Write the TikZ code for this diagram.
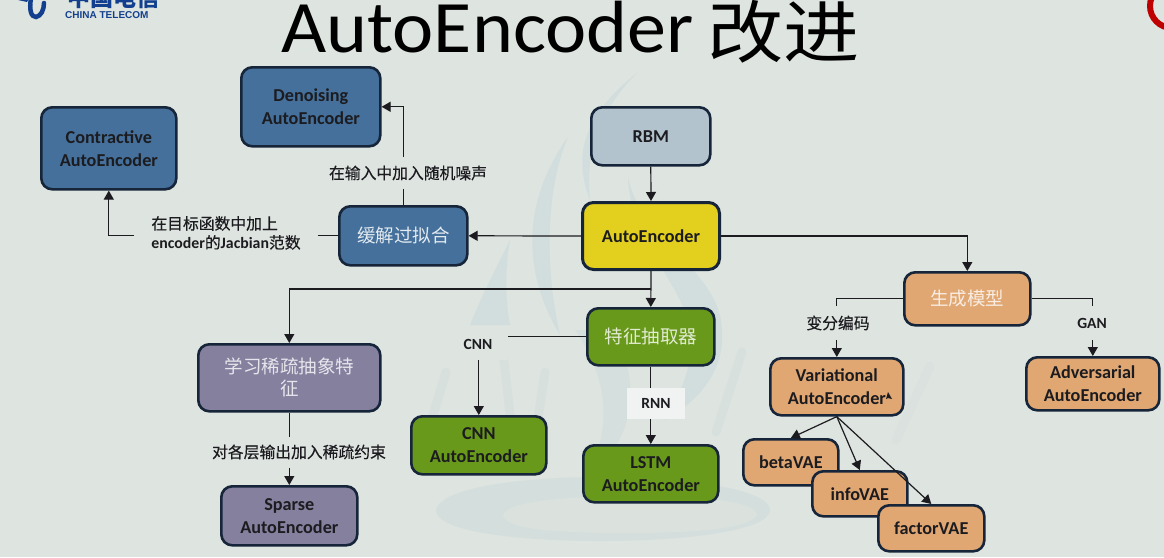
\documentclass[tikz,border=0pt]{standalone}
\usepackage{fontspec}
\usepackage{graphicx}
\setmainfont{Carlito}
\newfontfamily\cjk{Noto Sans CJK SC}
\newfontfamily\cjkm[FakeBold=0.35]{Noto Sans CJK SC}
\newfontfamily\lgf{Liberation Sans}
\usetikzlibrary{arrows.meta,calc}
\definecolor{bgc}{HTML}{DEE4DF}
\definecolor{wmk}{HTML}{D2DDDD}
\definecolor{bluef}{HTML}{44709B}
\definecolor{greyb}{HTML}{B2C3CD}
\definecolor{yel}{HTML}{E2CF1E}
\definecolor{gre}{HTML}{68991A}
\definecolor{ora}{HTML}{E0A772}
\definecolor{pur}{HTML}{86809F}
\definecolor{edge}{HTML}{16253A}
\definecolor{ink}{HTML}{1C1C20}
\definecolor{tel}{HTML}{12408F}
\tikzset{x=1pt,y=-1pt,
 box/.style={draw=edge,line width=2.6pt,rounded corners=11pt,inner sep=0pt,align=center,font=\bfseries\fontsize{18.2}{23}\selectfont,text=ink},
 cjkbox/.style={box,font=\cjk\fontsize{18.5}{22}\selectfont,text=#1},
 conn/.style={draw=ink,line width=1.2pt},
 arr/.style={conn,-{Triangle[length=9pt,width=10pt]}},
 lab/.style={inner sep=0pt,fill=bgc,align=center,text=ink,font=\cjkm\fontsize{15.8}{19}\selectfont},
 labl/.style={inner sep=0pt,fill=bgc,align=center,text=ink,font=\bfseries\fontsize{15.5}{19}\selectfont},
 wm/.style={draw=wmk,line width=9pt,line cap=round,opacity=.45}}
\newcommand{\bx}[5]{\node[#1,minimum width=#4pt-1pt,minimum height=#5pt-1pt,anchor=north west] (#2) at (#3)}
\begin{document}
\begin{tikzpicture}
\useasboundingbox (0,0) rectangle (1164,557);
\fill[bgc] (0,0) rectangle (1164,557);
% watermark
\fill[wmk,opacity=.85] (436,510) .. controls (440,488) and (520,477) .. (600,477) .. controls (690,477) and (770,490) .. (770,510) .. controls (770,530) and (690,541) .. (600,541) .. controls (520,541) and (436,532) .. (436,510);
\fill[bgc,opacity=.75] (503,515) .. controls (510,498) and (590,496) .. (650,496) .. controls (710,496) and (757,503) .. (757,515) .. controls (750,528) and (700,533) .. (630,533) .. controls (560,533) and (505,530) .. (503,515);
\fill[wmk] (637,73) .. controls (590,110) and (570,150) .. (590,200) .. controls (585,150) and (600,110) .. (637,73);
\fill[wmk] (568,137) .. controls (530,190) and (515,260) .. (560,335) .. controls (545,270) and (545,190) .. (568,137);
\fill[wmk] (510,240) .. controls (495,270) and (480,300) .. (470,325) -- (510,325) .. controls (505,300) and (505,270) .. (510,240);
\fill[wmk] (628,177) .. controls (640,240) and (720,270) .. (722,330) .. controls (725,370) and (700,400) .. (665,420) .. controls (690,380) and (700,340) .. (680,300) .. controls (660,260) and (630,230) .. (628,177);
\fill[wmk,opacity=.7] (575,330) .. controls (610,380) and (610,430) .. (590,470) .. controls (640,440) and (640,370) .. (610,330) -- cycle;
\draw[wm] (446,372) -- (428,432);
\draw[wm] (503,352) -- (512,432);
\draw[wm] (545,372) -- (533,452);
\draw[wm] (742,352) -- (716,432);
\draw[wm,opacity=.3] (930,366) -- (896,440);
% title
\node[anchor=base west,inner sep=0pt,text=black,font=\fontsize{74}{80}\selectfont] (title) at (281,52) {\scalebox{1.055}[1]{AutoEncoder}\hspace{14pt}\raisebox{-5pt}{\scalebox{1.12}[1]{\cjk\fontsize{68}{72}\selectfont 改进}}};
% logo
\node[anchor=base west,inner sep=0pt,text=tel,font=\lgf\bfseries\fontsize{10}{12}\selectfont] (logoen) at (65,18) {CHINA TELECOM};
\node[anchor=base west,inner sep=0pt,text=tel,font=\cjk\bfseries\fontsize{23}{24}\selectfont] (logocn) at (67,6) {中国电信};
\draw[tel,line width=4.5pt,line cap=round] (31,-2) .. controls (29,10) and (31,17) .. (36,17) .. controls (41,16) and (44,10) .. (44,3);
\fill[tel] (18,0) -- (28,0) -- (27,2) -- cycle;
% seal
\draw[red!75!black,line width=6pt] (1172,6) circle (22);
% nodes
\bx{box,fill=greyb}{rbm}{590,106}{120}{59} {RBM};
\bx{box,line width=3pt,fill=yel}{ae}{581,201}{138}{68} {AutoEncoder};
\bx{cjkbox=white!85!bluef,fill=bluef}{ov}{338,205}{129}{60} {缓解过拟合};
\bx{box,fill=bluef}{dae}{240,66}{140}{80} {Denoising\\AutoEncoder};
\bx{box,fill=bluef}{cae}{40,106}{136}{83} {Contractive\\AutoEncoder};
\bx{cjkbox=white!80!gre,fill=gre}{fe}{586,307}{128}{58} {特征抽取器};
\bx{box,fill=gre}{cnn}{410,415}{136}{59} {CNN\\AutoEncoder};
\bx{box,fill=gre}{lstm}{582,444}{136}{58} {LSTM\\AutoEncoder};
\bx{cjkbox=white!80!pur,fill=pur}{sp}{197,343}{183}{68} {学习稀疏抽象特\\征};
\bx{box,fill=pur}{sae}{220,485}{137}{60} {Sparse\\AutoEncoder};
\bx{cjkbox=white!80!ora,fill=ora}{gen}{903,271}{127}{54} {生成模型};
\bx{box,fill=ora}{vae}{769,357}{134}{58} {Variational\\AutoEncoder};
\bx{box,fill=ora}{aae}{1025,356}{134}{54} {Adversarial\\AutoEncoder};
\bx{box,fill=ora}{beta}{742,438}{96}{47} {betaVAE};
\bx{box,fill=ora}{info}{811,470}{96}{46} {infoVAE};
\bx{box,fill=ora}{factor}{877,504}{107}{47} {factorVAE};
% connectors
\coordinate (j) at (ae.south |- 0,289);
\draw[arr] (rbm.south) -- (ae.north);
\draw[arr] (ae.west) -- (ov.east);
\draw[arr] (ae.east) -| (gen.north);
\draw[arr] (ae.south) -- (fe.north);
\draw[arr] (j) -| (sp.north);
\draw[arr] (ov.north) |- (dae.east);
\draw[arr] (ov.west) -| (cae.south);
\draw[arr] (fe.west) -| (cnn.north);
\draw[arr] (fe.south) -- (lstm.north);
\draw[arr] (sp.south) -- (sae.north);
\draw[arr] (gen.west) -| (vae.north);
\draw[arr] (gen.east) -| (aae.north);
\draw[arr] (vae.south) -- (beta.north);
\draw[arr] (vae.south) -- (info.north);
\draw[arr] (vae.south) -- (factor.north);
% labels
\node[lab,minimum width=166pt,minimum height=32pt] (l1) at (408,173) {在输入中加入随机噪声};
\node[lab,align=left,minimum width=184pt,minimum height=44pt] (l2) at (226,233) {在目标函数中加上\\{\bfseries\rmfamily encoder}的{\bfseries\rmfamily Jacbian}范数\hspace{7pt}};
\node[labl,minimum width=60pt,minimum height=32pt] (l3) at (478,344) {CNN};
\node[labl,fill=white!55!bgc,minimum width=58pt,minimum height=31pt] (l4) at (656,403) {RNN};
\node[lab,minimum width=182pt,minimum height=31pt] (l5) at (299,452) {对各层输出加入稀疏约束};
\node[lab,minimum width=70pt,minimum height=34pt] (l6) at (838,323) {变分编码};
\node[labl,minimum width=44pt,minimum height=34pt] (l7) at (1092,323) {GAN};
% pointer mark
\fill[ink] (888,392) -- (892,399) -- (888,398) -- (886,399) -- cycle;
\end{tikzpicture}
\end{document}
